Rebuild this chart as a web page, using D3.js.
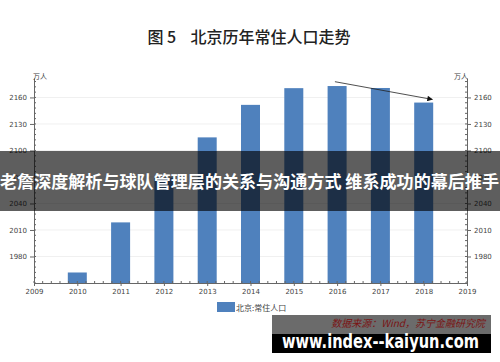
<!DOCTYPE html>
<meta charset="utf-8">
<style>
    body { margin: 0; background: #fff; }
    svg { display: block; font-family: "Noto Sans CJK SC", "DejaVu Sans", sans-serif; }
    .axis path, .axis line { stroke: #666; }
    .axis text { fill: #444; font-size: 7px; font-family: "DejaVu Sans", sans-serif; }
    .grid line { stroke: #f0f0f0; }
</style>
<body>
<script src="https://cdn.jsdelivr.net/npm/d3@7"></script>
<script>
    // 北京常住人口（万人）
    var years = [2010, 2011, 2012, 2013, 2014, 2015, 2016, 2017, 2018];
    var population = [1961.9, 2018.6, 2069.3, 2114.8, 2151.6, 2170.5, 2172.9, 2170.7, 2154.2];
    var yTicks = [1980, 2010, 2040, 2070, 2100, 2130, 2160];
    var xTicks = [2009, 2010, 2011, 2012, 2013, 2014, 2015, 2016, 2017, 2018, 2019];

    var W = 500, H = 362;
    var plot = {left: 34, right: 467, top: 78, bottom: 283};

    var svg = d3.select("body").append("svg")
        .attr("width", W)
        .attr("height", H);

    var x = d3.scaleLinear().domain([2009, 2019]).range([plot.left, plot.right]);
    var y = d3.scaleLinear().domain([1950, 2182]).range([plot.bottom, plot.top]);

    // title
    svg.append("text")
        .attr("x", 249).attr("y", 43)
        .attr("text-anchor", "middle")
        .attr("font-size", 16)
        .attr("font-weight", 500)
        .attr("fill", "#222")
        .attr("xml:space", "preserve")
        .text("图 5    北京历年常住人口走势");

    // faint gridlines
    svg.append("g").attr("class", "grid")
        .selectAll("line").data(yTicks).join("line")
        .attr("x1", plot.left).attr("x2", plot.right)
        .attr("y1", d => y(d)).attr("y2", d => y(d));

    // bars
    var barW = 19;
    svg.append("g").selectAll("rect")
        .data(years).join("rect")
        .attr("x", d => x(d) - barW / 2)
        .attr("width", barW)
        .attr("y", (d, i) => y(population[i]))
        .attr("height", (d, i) => plot.bottom - y(population[i]))
        .attr("fill", "#4f81bd");

    // minor ticks
    var yMinor = d3.range(1950, 2182, 6);
    var xMinor = d3.range(2009, 2019.01, 0.2);

    var left = svg.append("g").attr("class", "axis")
        .attr("transform", "translate(" + plot.left + ",0)")
        .call(d3.axisLeft(y).tickValues(yTicks).tickSize(4).tickSizeOuter(0).tickFormat(d3.format("d")));
    left.append("g").selectAll("line").data(yMinor).join("line")
        .attr("x1", 0).attr("x2", 2).attr("y1", d => y(d)).attr("y2", d => y(d));

    var right = svg.append("g").attr("class", "axis")
        .attr("transform", "translate(" + plot.right + ",0)")
        .call(d3.axisRight(y).tickValues(yTicks).tickSize(4).tickSizeOuter(0).tickFormat(d3.format("d")));
    right.append("g").selectAll("line").data(yMinor).join("line")
        .attr("x1", 0).attr("x2", -2).attr("y1", d => y(d)).attr("y2", d => y(d));

    var bottom = svg.append("g").attr("class", "axis")
        .attr("transform", "translate(0," + plot.bottom + ")")
        .call(d3.axisBottom(x).tickValues(xTicks).tickSize(3).tickSizeOuter(0).tickFormat(d3.format("d")));
    bottom.append("g").selectAll("line").data(xMinor).join("line")
        .attr("x1", d => x(d)).attr("x2", d => x(d)).attr("y1", 0).attr("y2", -2);

    // unit labels
    svg.append("text").attr("x", plot.left - 1).attr("y", 79)
        .attr("font-size", 7).attr("fill", "#444").text("万人");
    svg.append("text").attr("x", plot.right - 13).attr("y", 79)
        .attr("font-size", 7).attr("fill", "#444").text("万人");

    // trend arrow
    var defs = svg.append("defs");
    defs.append("marker")
        .attr("id", "arrow")
        .attr("viewBox", "0 0 10 10")
        .attr("refX", 9).attr("refY", 5)
        .attr("markerWidth", 12).attr("markerHeight", 7)
        .attr("orient", "auto")
        .append("path").attr("d", "M0,0L10,5L0,10z").attr("fill", "#111");
    svg.append("line")
        .attr("x1", x(2015.95)).attr("y1", y(2188) + 9)
        .attr("x2", x(2018.2)).attr("y2", y(2160) + 2)
        .attr("stroke", "#222").attr("stroke-width", 0.8)
        .attr("marker-end", "url(#arrow)");

    // legend
    svg.append("rect").attr("x", 217).attr("y", 302).attr("width", 18).attr("height", 10).attr("fill", "#4f81bd");
    svg.append("text").attr("x", 236).attr("y", 310.5).attr("font-size", 8).attr("fill", "#444").text("北京:常住人口");

    // overlay banner
    svg.append("rect").attr("x", 0).attr("y", 151).attr("width", W).attr("height", 60)
        .attr("fill", "#000").attr("fill-opacity", 0.63);
    svg.append("text").attr("x", 0).attr("y", 188)
        .attr("font-size", 17).attr("font-weight", "bold").attr("fill", "#fff")
        .attr("textLength", 499).attr("lengthAdjust", "spacingAndGlyphs")
        .text("老詹深度解析与球队管理层的关系与沟通方式 维系成功的幕后推手");

    // watermark box
    svg.append("rect").attr("x", 272).attr("y", 315).attr("width", 219).attr("height", 38).attr("fill", "#000");
    svg.append("rect").attr("x", 272).attr("y", 315).attr("width", 219).attr("height", 19).attr("fill", "#6b6b6b");
    svg.append("text").attr("x", 485).attr("y", 327)
        .attr("text-anchor", "end").attr("font-size", 10).attr("font-style", "italic")
        .attr("fill", "#7a1414").text("数据来源：Wind，苏宁金融研究院");
    svg.append("text").attr("x", 282).attr("y", 348)
        .attr("font-size", 19).attr("font-weight", "bold").attr("fill", "#fff")
        .attr("font-family", "'DejaVu Sans', sans-serif")
        .attr("textLength", 197).attr("lengthAdjust", "spacingAndGlyphs")
        .text("www.index--kaiyun.com");
</script>
